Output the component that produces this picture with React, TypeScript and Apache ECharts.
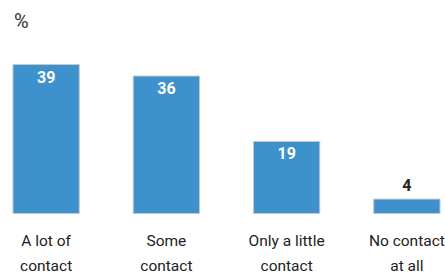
import React, { useEffect, useRef } from "react";
import * as echarts from "echarts";

const categories = ["A lot of\ncontact", "Some\ncontact", "Only a little\ncontact", "No contact\nat all"];
const values = [39, 36, 19, 4];
const insideLabel = [true, true, true, false];

const FONT = "Roboto, 'Noto Sans', sans-serif";

export default function App() {
  const ref = useRef<HTMLDivElement>(null);
  useEffect(() => {
    const chart = echarts.init(ref.current!, null, { renderer: "svg" });
    chart.setOption({
      animation: false,
      graphic: [
        {
          type: "text",
          left: 28,
          top: 11,
          style: { text: "%", fontSize: 20, fontFamily: FONT, fill: "#333" },
        },
      ],
      grid: { left: 0, right: 0, top: 64, bottom: 57, containLabel: false },
      xAxis: {
        type: "category",
        data: categories,
        axisLine: { show: false },
        axisTick: { show: false },
        axisLabel: {
          interval: 0,
          fontSize: 15.5,
          lineHeight: 25,
          color: "#222",
          fontFamily: FONT,
          margin: 14,
        },
      },
      yAxis: { type: "value", min: 0, max: 39, show: false, splitLine: { show: false } },
      series: [
        {
          type: "bar",
          barCategoryGap: "44%",
          data: values.map((v, i) => ({
            value: v,
            label: insideLabel[i]
              ? { show: true, position: "insideTop", distance: 5, color: "#fff" }
              : { show: true, position: "top", distance: 5, color: "#222" },
          })),
          itemStyle: { color: "#3d92cd", borderColor: "#c8c8c8", borderWidth: 1 },
          label: { fontSize: 16, fontWeight: "bold", fontFamily: FONT },
        },
      ],
    });
    return () => chart.dispose();
  }, []);
  return (
    <div style={{ position: "absolute", left: 0, top: 0, width: 445, height: 278, overflow: "hidden" }}>
      <div ref={ref} style={{ width: 481, height: 278, position: "absolute", left: -14, top: 0 }} />
    </div>
  );
}
